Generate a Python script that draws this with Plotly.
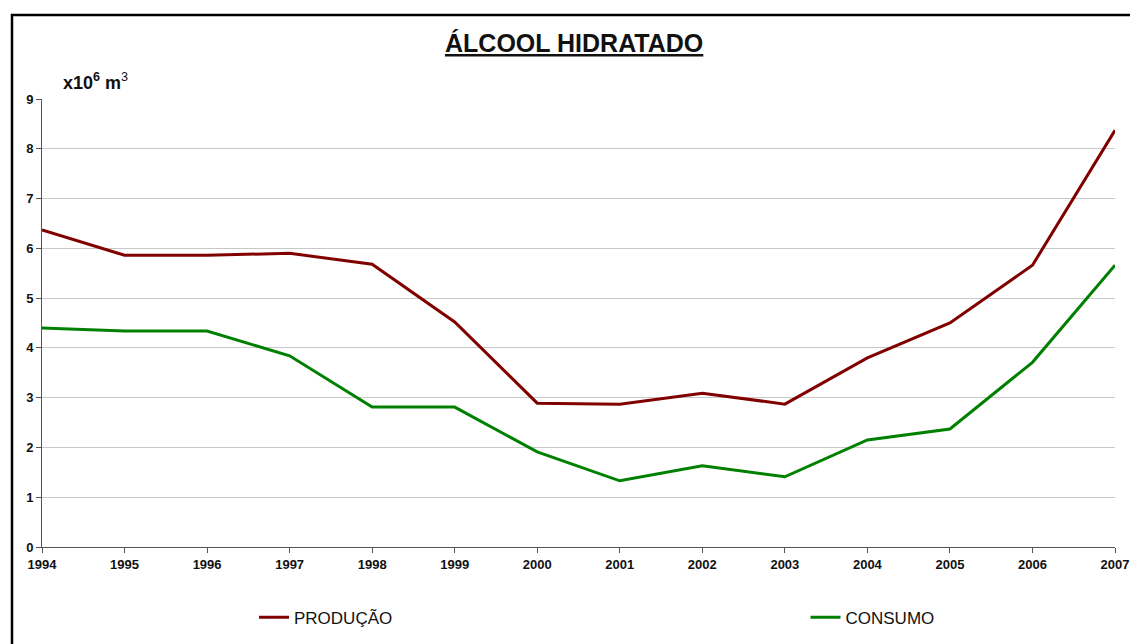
import plotly.graph_objects as go

# --- data ---
years = [1994, 1995, 1996, 1997, 1998, 1999, 2000, 2001, 2002, 2003, 2004, 2005, 2006, 2007]
producao = [6.37, 5.86, 5.86, 5.90, 5.68, 4.52, 2.89, 2.87, 3.09, 2.87, 3.80, 4.50, 5.66, 8.37]
consumo = [4.40, 4.34, 4.34, 3.84, 2.81, 2.81, 1.91, 1.33, 1.63, 1.41, 2.15, 2.37, 3.71, 5.66]
y_ticks = list(range(0, 10))

FONT = "Liberation Sans, Arial, sans-serif"
PLOT_W, PLOT_H = 1073, 448  # plot area in px, left edge at x=42, top at y=99 on the page

fig = go.Figure()
fig.add_trace(go.Scatter(
    x=years, y=producao, mode="lines", name="PRODUÇÃO",
    line=dict(color="#800000", width=3), legend="legend",
))
fig.add_trace(go.Scatter(
    x=years, y=consumo, mode="lines", name="CONSUMO",
    line=dict(color="#008000", width=3), legend="legend2",
))

axis_common = dict(
    showline=True, linecolor="#555555", linewidth=1,
    ticks="outside", ticklen=5, tickcolor="#555555",
    zeroline=False,
)

fig.update_xaxes(
    range=[years[0], years[-1]], tickvals=years, ticktext=[str(y) for y in years],
    showgrid=False, tickfont=dict(family=FONT, size=13, color="#111111", weight="bold"),
    **axis_common,
)
fig.update_yaxes(
    range=[0, 9], tickvals=y_ticks, showgrid=True, gridcolor="#c8c8c8", gridwidth=1,
    tickfont=dict(family=FONT, size=13, color="#111111", weight="bold"),
    **axis_common,
)

legend_style = dict(
    orientation="h", yanchor="middle", y=-0.158, xanchor="left",
    font=dict(family=FONT, size=17, color="#111111"),
    bgcolor="rgba(0,0,0,0)", itemwidth=30,
)

# the page body adds an 8px margin, so the figure is kept smaller than the window
fig.update_layout(
    width=1130, height=636,
    margin=dict(l=34, r=1130 - 34 - PLOT_W, t=91, b=97, autoexpand=False),
    paper_bgcolor="white", plot_bgcolor="white",
    showlegend=True,
    legend=dict(x=(254 - 42) / PLOT_W, **legend_style),
    legend2=dict(x=(805.5 - 42) / PLOT_W, **legend_style),
    annotations=[
        dict(text="<b><u>ÁLCOOL HIDRATADO</u></b>", xref="paper", yref="paper",
             x=(574 - 42) / PLOT_W, y=1.126, xanchor="center", yanchor="middle",
             showarrow=False, font=dict(family=FONT, size=25, color="#111111")),
        dict(text="<b>x10<sup>6</sup> m</b><sup>3</sup>", xref="paper", yref="paper",
             x=(61 - 42) / PLOT_W, y=1.04, xanchor="left", yanchor="middle",
             showarrow=False, font=dict(family=FONT, size=18, color="#111111")),
    ],
    shapes=[
        dict(type="rect", xref="paper", yref="paper",
             x0=(12 - 42) / PLOT_W, x1=(1160 - 42) / PLOT_W,
             y0=(547 - 660) / PLOT_H, y1=(547 - 15) / PLOT_H,
             line=dict(color="black", width=2.5), layer="below"),
    ],
)

fig.write_html("out.html")
